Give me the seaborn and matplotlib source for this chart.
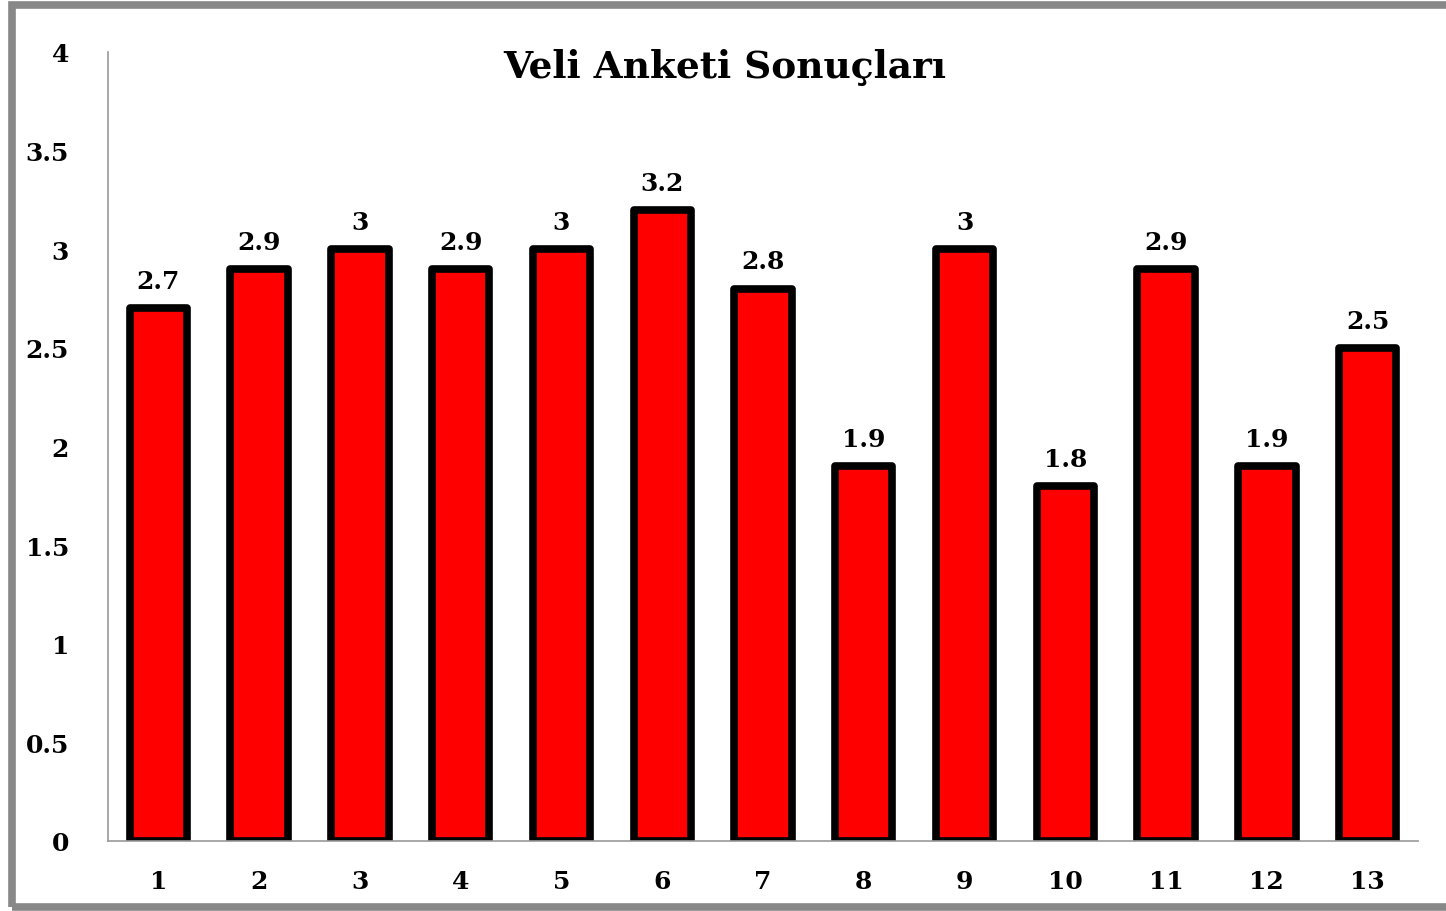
import matplotlib
matplotlib.use("Agg")
import matplotlib.pyplot as plt
import seaborn as sns
import pandas as pd
from matplotlib.patches import Rectangle

categories = ["1", "2", "3", "4", "5", "6", "7", "8", "9", "10", "11", "12", "13"]
values = [2.7, 2.9, 3.0, 2.9, 3.0, 3.2, 2.8, 1.9, 3.0, 1.8, 2.9, 1.9, 2.5]
value_labels = ["2.7", "2.9", "3", "2.9", "3", "3.2", "2.8", "1.9", "3", "1.8", "2.9", "1.9", "2.5"]
yticks = [0, 0.5, 1, 1.5, 2, 2.5, 3, 3.5, 4]
ytick_labels = ["0", "0.5", "1", "1.5", "2", "2.5", "3", "3.5", "4"]
title = "Veli Anketi Sonuçları"

sns.set_theme(style="white")
plt.rcParams['font.family'] = ['DejaVu Serif']
plt.rcParams['font.weight'] = 'bold'
plt.rcParams['text.color'] = 'black'
plt.rcParams['xtick.color'] = 'black'
plt.rcParams['ytick.color'] = 'black'

df = pd.DataFrame({"cat": categories, "val": values})

fig = plt.figure(figsize=(14.46, 9.12), dpi=100)
ax = fig.add_axes([108/1446, 1 - 842/912, (1418 - 108)/1446, (842 - 53)/912])

sns.barplot(data=df, x="cat", y="val", order=categories, color="#ff0000",
            edgecolor="black", linewidth=5.5, width=0.57, saturation=1, ax=ax)
for p in ax.patches:
    p.set_joinstyle("round")

ax.set_xlim(-0.5, len(categories) - 0.5)
ax.set_ylim(0, 4)
ax.set_yticks(yticks)
ax.set_yticklabels(ytick_labels, fontsize=18, fontweight="bold", color="black")
ax.set_xticklabels(categories, fontsize=18, fontweight="bold", color="black")
ax.tick_params(axis="y", length=0, pad=28)
ax.tick_params(axis="x", length=0, pad=20)
ax.set_xlabel("")
ax.set_ylabel("")

for s in ["top", "right"]:
    ax.spines[s].set_visible(False)
for s in ["left", "bottom"]:
    ax.spines[s].set_color("#999999")
    ax.spines[s].set_linewidth(1.2)

for i, (v, lab) in enumerate(zip(values, value_labels)):
    ax.annotate(lab, (i, v), xytext=(0, 11), textcoords="offset points",
                ha="center", va="bottom", fontsize=18, fontweight="bold",
                color="black")

fig.text(0.501, 1 - 68/912, title, ha="center", va="center",
         fontsize=27, fontweight="bold", color="black")

border = Rectangle((11.5/1446, 1 - 908/912), 1.2, (908 - 6)/912,
                   transform=fig.transFigure, fill=False,
                   edgecolor="#888888", linewidth=5.5, clip_on=False)
fig.patches.append(border)

fig.savefig("out.png", dpi=100)
